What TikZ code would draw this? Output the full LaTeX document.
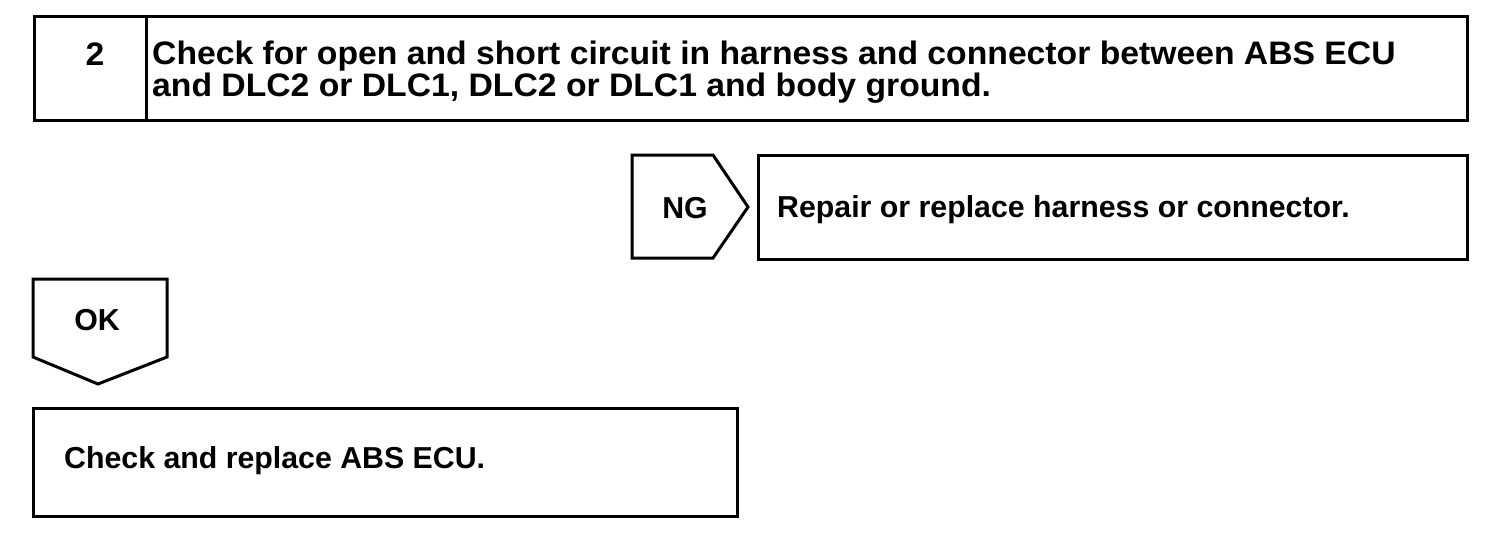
\documentclass[tikz,border=0pt]{standalone}
\usepackage{fontspec}
\setmainfont{Liberation Sans}
\newfontfamily\widefont[FakeStretch=1.037]{Liberation Sans}
\begin{document}
\begin{tikzpicture}[x=1pt,y=-1pt,
  frame/.style={draw=black,line width=3pt,line join=miter},
  lbl/.style={inner sep=0pt,font=\fontsize{30.3}{30.3}\selectfont\bfseries,anchor=base west},
  biglbl/.style={lbl,font=\widefont\fontsize{32.5}{32.5}\selectfont\bfseries}]
\useasboundingbox[fill=white] (0,0) rectangle (1504,542);
% top box
\draw[frame] (34,16) rectangle (1467,120);
\draw[frame] (146,16) -- (146,120);
\node[biglbl,anchor=base] (num) at (95,65) {2};
\node[biglbl] (t1) at (152,64) {Check for open and short circuit in harness and connector between ABS ECU};
\node[biglbl] (t2) at (152,96) {and DLC2 or DLC1, DLC2 or DLC1 and body ground.};
% NG pentagon
\draw[frame] (632,155) -- (713,155) -- (748,207) -- (713,258) -- (632,258) -- cycle;
\node[lbl,anchor=base] (ng) at (685,218) {NG};
% repair box
\draw[frame] (758,155) rectangle (1467,259);
\node[lbl] (rep) at (777,217) {Repair or replace harness or connector.};
% OK down arrow
\draw[frame] (33,279) -- (167,279) -- (167,357) -- (98,384) -- (33,357) -- cycle;
\node[lbl,anchor=base] (ok) at (97,330) {OK};
% bottom box
\draw[frame] (33,408) rectangle (737,516);
\node[lbl] (chk) at (64,468) {Check and replace ABS ECU.};
\end{tikzpicture}
\end{document}
